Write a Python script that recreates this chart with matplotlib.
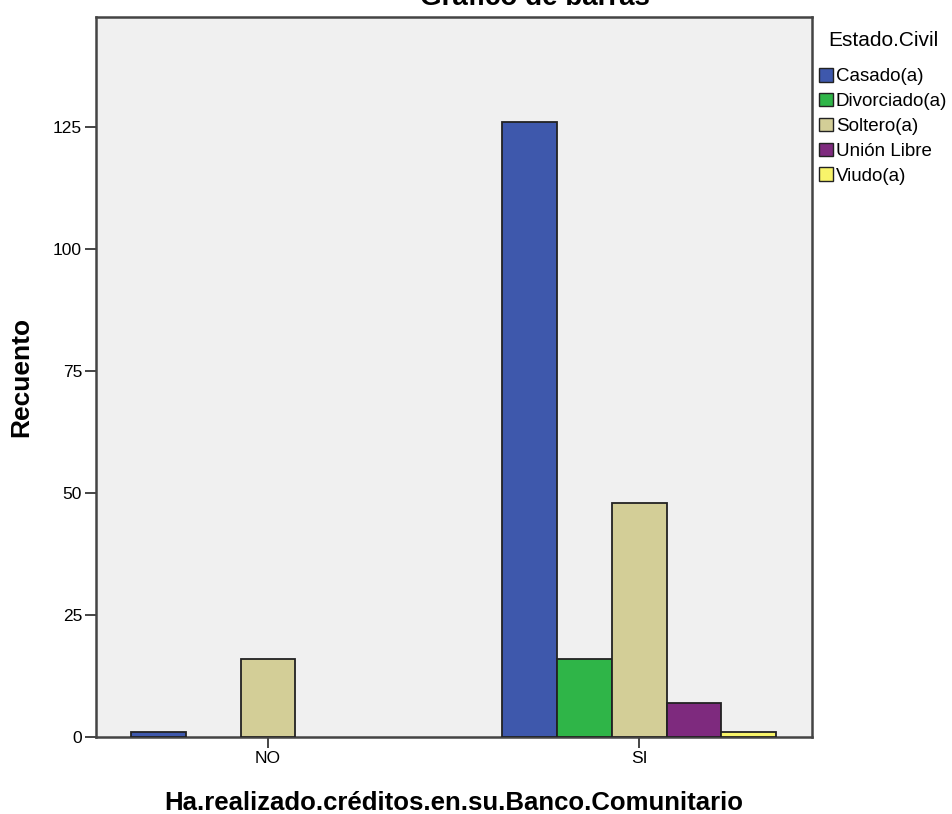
import matplotlib
matplotlib.use("Agg")
import matplotlib.pyplot as plt
from matplotlib.patches import Patch
import numpy as np

plt.rcParams['font.family'] = ['Liberation Sans', 'DejaVu Sans']

groups = ["NO", "SI"]
series = ["Casado(a)", "Divorciado(a)", "Soltero(a)", "Unión Libre", "Viudo(a)"]
values = {
    "Casado(a)": [1, 126],
    "Divorciado(a)": [0, 16],
    "Soltero(a)": [16, 48],
    "Unión Libre": [0, 7],
    "Viudo(a)": [0, 1],
}
colors = ["#3E58AC", "#2FB548", "#D3CE97", "#7E2A7E", "#F8F46A"]
yticks = [0, 25, 50, 75, 100, 125]

fig = plt.figure(figsize=(9.52, 8.14), dpi=100)
ax = fig.add_axes([96/952, 1-737/814, (812-96)/952, (737-17)/814])
ax.set_facecolor("#F0F0F0")

x = np.arange(len(groups))
w = 0.148
for i, (s, c) in enumerate(zip(series, colors)):
    vals = values[s]
    for xi, v in zip(x, vals):
        if v > 0:
            ax.bar(xi + (i - 2) * w, v, width=w, color=c, edgecolor="#222222", linewidth=1.3, zorder=3)

ax.set_xlim(-0.4636, 1.466)
ax.set_ylim(0, 147.5)
ax.set_xticks(x)
ax.set_xticklabels(groups, fontsize=12.5)
ax.set_yticks(yticks)
ax.set_yticklabels([str(t) for t in yticks], fontsize=12.5)
for sp in ax.spines.values():
    sp.set_color("#444444")
    sp.set_linewidth(1.8)
ax.tick_params(axis='both', direction='out', length=8, width=1.4, color="#444444", pad=2)

ax.set_ylabel("Recuento", fontsize=19, fontweight='bold', labelpad=14)
ax.set_xlabel("Ha.realizado.créditos.en.su.Banco.Comunitario", fontsize=18.5, fontweight='bold', labelpad=18)

fig.text(535/952, 1-5/814, "Gráfico de barras", ha='center', va='baseline', fontsize=20, fontweight='bold')

handles = [Patch(facecolor=c, edgecolor="#222222", linewidth=1.0) for c in colors]
leg = fig.legend(handles, series, title="Estado.Civil", loc='upper left',
                 bbox_to_anchor=(815/952, 1-27/814), frameon=False, fontsize=13.5,
                 title_fontsize=15, handlelength=0.75, handleheight=0.75, handletextpad=0.15,
                 labelspacing=0.4, borderaxespad=0, borderpad=0.2)
leg._legend_box.align = "center"
leg._legend_box.sep = 13

fig.savefig("out.png", dpi=100)
